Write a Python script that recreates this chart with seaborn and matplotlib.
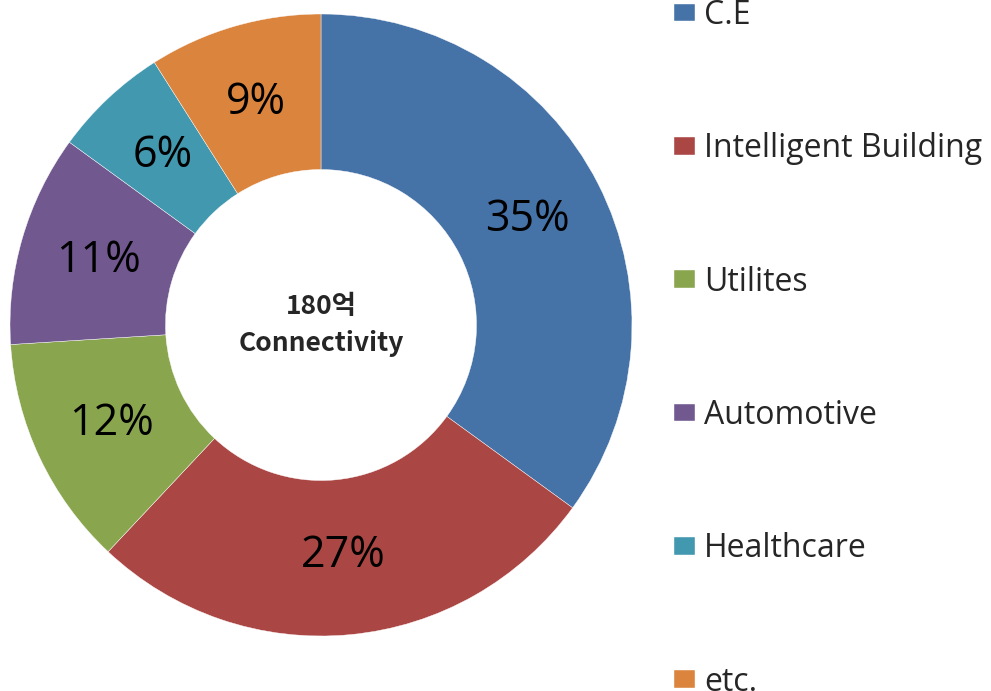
import matplotlib
matplotlib.use("Agg")
import matplotlib.pyplot as plt
import seaborn as sns

sns.set_style("white")
plt.rcParams['font.family'] = ['Open Sans', 'Noto Sans CJK KR', 'DejaVu Sans']

categories = ["C.E", "Intelligent Building", "Utilites", "Automotive", "Healthcare", "etc."]
shares = [35, 27, 12, 11, 6, 9]
colors = ["#4572A7", "#AA4643", "#89A54E", "#71588F", "#4198AF", "#DB843D"]
center_text = "180억\nConnectivity"

W, H = 991, 691
fig = plt.figure(figsize=(W / 100, H / 100), dpi=100)

# donut: centre (321, 325) px, radius 311 px
cx, cy, r = 321, 325, 311
ax = fig.add_axes([(cx - r) / W, (H - cy - r) / H, 2 * r / W, 2 * r / H])

wedges, texts, autotexts = ax.pie(
    shares, colors=colors, startangle=90, counterclock=False, radius=1,
    autopct='%1.0f%%', pctdistance=0.745,
    wedgeprops=dict(width=0.5, edgecolor='white', linewidth=0.3),
    textprops=dict(fontsize=31, color='black'),
)
ax.set_xlim(-1, 1)
ax.set_ylim(-1, 1)
ax.set_aspect('equal')
ax.axis('off')

ax.text(0, 0, center_text, ha='center', va='center', fontsize=19,
        fontweight='bold', linespacing=1.45,
        family=['Noto Sans CJK KR', 'DejaVu Sans'])

fs = 23
fig.legend(wedges, categories, loc='upper left',
           bbox_to_anchor=(674 / W, 1 + 1 / H), bbox_transform=fig.transFigure,
           frameon=False, fontsize=fs, borderpad=0, borderaxespad=0,
           handlelength=0.66, handleheight=0.47, handletextpad=0.28,
           labelspacing=3.14)

fig.savefig("out.png", dpi=100)
